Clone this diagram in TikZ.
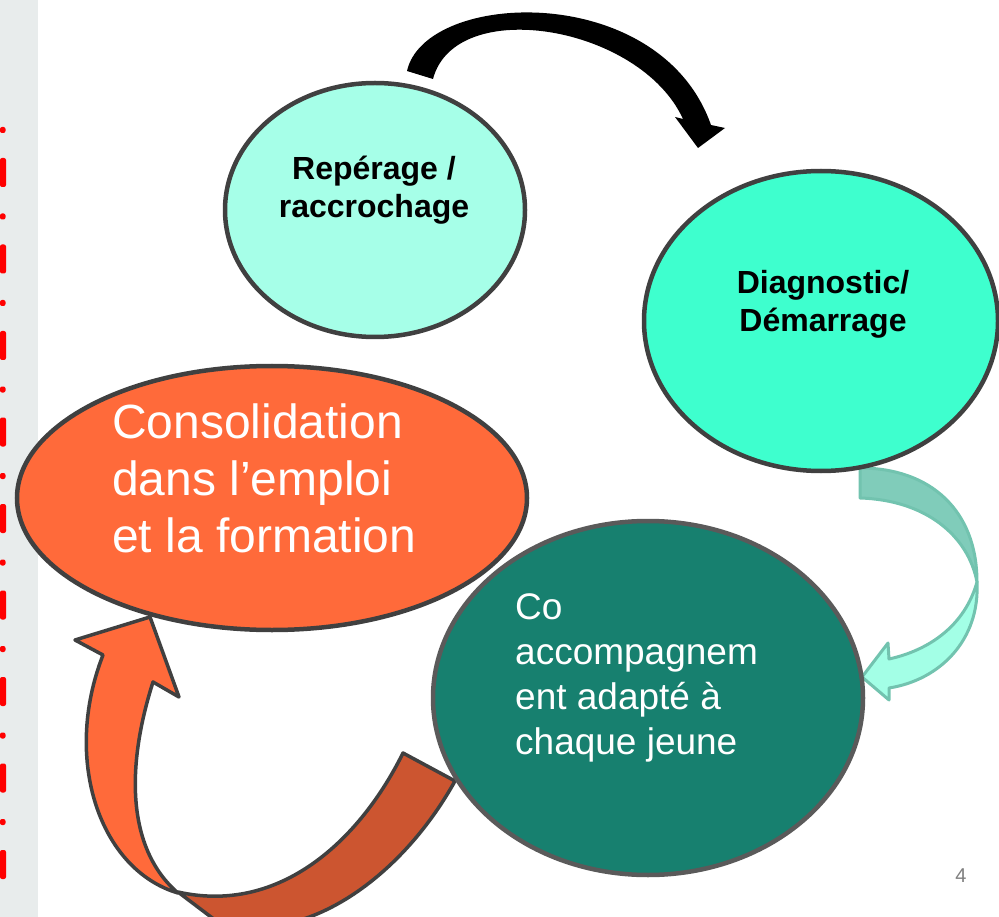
\documentclass[tikz,border=0pt]{standalone}
\usepackage{fontspec}
\setmainfont{Liberation Sans}
\usetikzlibrary{shapes.geometric}
\usetikzlibrary{calc}

\definecolor{stripgrey}{HTML}{E8ECEC}
\definecolor{dashred}{HTML}{FF0000}
\definecolor{rimgrey}{HTML}{404040}
\definecolor{reperfill}{HTML}{A6FFE8}
\definecolor{diagfill}{HTML}{3EFFCE}
\definecolor{consofill}{HTML}{FF6A3A}
\definecolor{cofill}{HTML}{17806F}
\definecolor{corim}{HTML}{5A5A5A}
\definecolor{brownfill}{HTML}{CC5530}
\definecolor{tealdark}{HTML}{80CCBA}
\definecolor{teallight}{HTML}{A3FFE6}
\definecolor{tealrim}{HTML}{72C3AF}
\definecolor{pagegrey}{HTML}{7F7F7F}

\begin{document}
\begin{tikzpicture}[x=1pt,y=-1pt,
  stage/.style={ellipse, draw=rimgrey, line width=4.5pt, inner sep=0pt},
  bandrim/.style={draw=rimgrey, line width=3.5pt, line join=round},
  boldtext/.style={align=center, anchor=base, inner sep=0pt,
    font=\bfseries\fontsize{32}{38.5}\selectfont},
  plaintext/.style={align=left, anchor=base west, inner sep=0pt, text=white}]
  \useasboundingbox (0,0) rectangle (999,917);

  % left margin strip
  \fill [stripgrey] (0,0) rectangle (38,917);
  \foreach \k in {0,...,8} {
    \fill [dashred, rounded corners=2pt] (0,{127+86.5*\k}) rectangle (5.5,{133+86.5*\k});
    \fill [dashred, rounded corners=2pt] (0,{158+86.5*\k}) rectangle (6,{187+86.5*\k});
  }

  % black arrow, top
  \fill [black] (407,71) .. controls (425,-10) and (660,-20) .. (711,125)
    -- (725,128) -- (698,148) -- (675,117) -- (683,119)
    .. controls (640,25) and (455,-5) .. (433,79) -- cycle;

  % teal arrow, right
  \filldraw [fill=tealdark, draw=tealrim, line width=3pt, line join=round]
    (860,468) .. controls (930,468) and (977,510) .. (977,582)
    .. controls (968,535) and (925,500) .. (860,498) -- cycle;
  \filldraw [fill=teallight, draw=tealrim, line width=3pt, line join=round]
    (977,582) .. controls (980,640) and (940,680) .. (889,688)
    -- (889,700) -- (862,677) -- (888,643) -- (889,659)
    .. controls (930,650) and (965,625) .. (977,582) -- cycle;

  % orange arrows, bottom left
  \filldraw [bandrim, fill=brownfill] (178,892)
    .. controls (280,915) and (360,840) .. (403,753) -- (455,781)
    .. controls (400,880) and (300,950) .. (215,920) -- cycle;
  \filldraw [bandrim, fill=consofill] (150,617) -- (179,697) -- (153,682)
    .. controls (125,770) and (128,850) .. (178,893)
    .. controls (100,870) and (62,760) .. (103,655) -- (75,640) -- cycle;

  % the four stages
  \node [stage, fill=reperfill, minimum width=300pt, minimum height=254pt] (reperage) at (375,210) {};
  \node [stage, fill=diagfill, minimum width=354pt, minimum height=300pt] (diagnostic) at (821,321) {};
  \node [stage, fill=consofill, minimum width=510pt, minimum height=264pt] (consolidation) at (272,498) {};
  \node [stage, draw=corim, fill=cofill, minimum width=430pt, minimum height=354pt] (coaccomp) at (648,698) {};

  \node [boldtext] (reperage-text) at (374,218) {Repérage /\\raccrochage};
  \node [boldtext] (diagnostic-text) at (823,332) {Diagnostic/\\Démarrage};
  \node [plaintext, font=\fontsize{48}{57}\selectfont] (consolidation-text) at (112,552)
    {Consolidation\\dans l’emploi\\et la formation};
  \node [plaintext, font=\fontsize{37}{44.7}\selectfont] (coaccomp-text) at (515,754)
    {Co\\accompagnem\\ent adapté à\\chaque jeune};

  \node [text=pagegrey, font=\fontsize{20}{24}\selectfont] (pagenum) at (961,876) {4};
\end{tikzpicture}
\end{document}
